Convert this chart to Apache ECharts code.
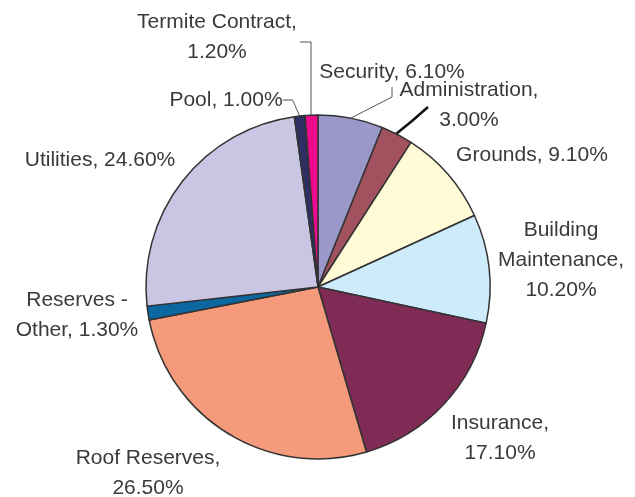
<!DOCTYPE html>
<html>
<head>
<meta charset="utf-8">
<script src="https://cdn.jsdelivr.net/npm/echarts@6/dist/echarts.min.js"></script>
<style>
html, body { margin: 0; padding: 0; background: #fff; }
#main { width: 635px; height: 497px; }
</style>
</head>
<body>
<div id="main"></div>
<script>
var names = ['Security', 'Administration', 'Grounds', 'Building Maintenance', 'Insurance',
    'Roof Reserves', 'Reserves - Other', 'Utilities', 'Pool', 'Termite Contract'];
var values = [6.1, 3.0, 9.1, 10.2, 17.1, 26.5, 1.3, 24.6, 1.0, 1.2];
var colors = ['#9a97c9', '#a2525e', '#fffbd6', '#cdebfa', '#7f2b56',
    '#f59a7b', '#0a679f', '#c9c6e3', '#2f2e62', '#ee0a8f'];
var labelTexts = [
    'Security, 6.10%',
    'Administration,\n3.00%',
    'Grounds, 9.10%',
    'Building\nMaintenance,\n10.20%',
    'Insurance,\n17.10%',
    'Roof Reserves,\n26.50%',
    'Reserves -\nOther, 1.30%',
    'Utilities, 24.60%',
    'Pool, 1.00%',
    'Termite Contract,\n1.20%'
];
var showLine = [true, true, false, false, false, false, false, false, true, true];

// label anchor spots (text centre)
var labelSpots = [
    [392, 72], [469, 105], [532, 155], [561, 260], [500, 438],
    [148, 473], [77, 315], [100, 160], [226, 100], [217, 37]
];

var myChart = echarts.init(document.getElementById('main'));

var option = {
    backgroundColor: '#ffffff',
    animation: false,
    series: [{
        type: 'pie',
        center: [318, 287],
        radius: 172,
        startAngle: 90,
        clockwise: true,
        avoidLabelOverlap: false,
        itemStyle: {
            borderColor: '#333333',
            borderWidth: 1.5
        },
        label: {
            show: true,
            position: 'outside',
            fontFamily: 'Liberation Sans, Arial, sans-serif',
            fontSize: 21,
            lineHeight: 30,
            color: '#3a3a3a',
            align: 'center',
            formatter: function (p) {
                return labelTexts[p.dataIndex];
            }
        },
        labelLine: {
            show: true,
            length: 10,
            length2: 10,
            lineStyle: { color: '#555', width: 1 }
        },
        labelLayout: function (params) {
            var i = params.dataIndex;
            var s = labelSpots[i];
            var out = {
                x: s[0],
                y: s[1],
                align: 'center',
                verticalAlign: 'middle'
            };
            if (i === 1) {
                out.labelLinePoints = [[396, 134], [412, 121], [428, 107]];
            } else if (i === 9) {
                out.labelLinePoints = [[311, 116], [311, 42], [300, 42]];
            }
            return out;
        },
        data: names.map(function (n, i) {
            return {
                name: n,
                value: values[i],
                itemStyle: { color: colors[i] },
                labelLine: {
                    show: showLine[i],
                    lineStyle: i === 1 ? { color: '#111', width: 2.5 } : { color: '#555', width: 1 }
                }
            };
        })
    }]
};

myChart.setOption(option);
</script>
</body>
</html>
